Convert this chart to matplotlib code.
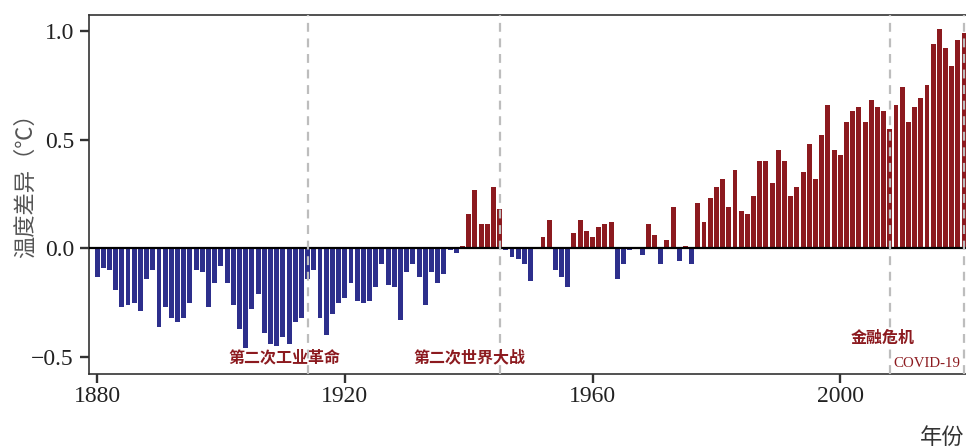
import numpy as np
import matplotlib
matplotlib.use("Agg")
import matplotlib.pyplot as plt

# temperature anomaly per year
years = np.arange(1880, 2021)
anomaly = [
    -0.13, -0.09, -0.10, -0.19, -0.27, -0.26, -0.25, -0.29, -0.14, -0.10,   # 1880s
    -0.36, -0.27, -0.32, -0.34, -0.32, -0.25, -0.10, -0.11, -0.27, -0.16,   # 1890s
    -0.08, -0.16, -0.26, -0.37, -0.46, -0.28, -0.21, -0.39, -0.44, -0.45,   # 1900s
    -0.41, -0.44, -0.34, -0.32, -0.14, -0.10, -0.32, -0.40, -0.30, -0.25,   # 1910s
    -0.23, -0.16, -0.24, -0.25, -0.24, -0.18, -0.07, -0.17, -0.18, -0.33,   # 1920s
    -0.11, -0.07, -0.13, -0.26, -0.11, -0.16, -0.12, -0.01, -0.02, 0.01,    # 1930s
    0.16, 0.27, 0.11, 0.11, 0.28, 0.18, -0.01, -0.04, -0.05, -0.07,         # 1940s
    -0.15, 0.00, 0.05, 0.13, -0.10, -0.13, -0.18, 0.07, 0.13, 0.08,         # 1950s
    0.05, 0.10, 0.11, 0.12, -0.14, -0.07, -0.01, 0.00, -0.03, 0.11,         # 1960s
    0.06, -0.07, 0.04, 0.19, -0.06, 0.01, -0.07, 0.21, 0.12, 0.23,          # 1970s
    0.28, 0.32, 0.19, 0.36, 0.17, 0.16, 0.24, 0.40, 0.40, 0.30,             # 1980s
    0.45, 0.40, 0.24, 0.28, 0.35, 0.48, 0.32, 0.52, 0.66, 0.45,             # 1990s
    0.43, 0.58, 0.63, 0.65, 0.58, 0.68, 0.65, 0.63, 0.55, 0.66,             # 2000s
    0.74, 0.58, 0.65, 0.69, 0.75, 0.94, 1.01, 0.92, 0.84, 0.96,             # 2010s
    0.99,                                                                   # 2020
]
anomaly = np.array(anomaly)

event_years = [1914, 1945, 2008, 2020]
event_labels = ["第二次工业革命", "第二次世界大战", "金融危机", "COVID-19"]
x_ticks = [1880, 1920, 1960, 2000]
y_ticks = [-0.5, 0.0, 0.5, 1.0]

blue = "#2d2f8c"
red = "#8c1a1f"
serif = "Liberation Serif"
cjk = ["Noto Sans CJK SC", "DejaVu Sans"]

fig = plt.figure(figsize=(9.66, 4.48), dpi=100)
# the reference is cropped at the right: axes ends at the figure edge,
# just past the 2020 bar, with no right spine
ax = fig.add_axes([89 / 966, 74 / 448, 877 / 966, 359 / 448])

colors = np.where(anomaly >= 0, red, blue)
ax.bar(years, anomaly, width=0.8, color=colors, linewidth=0, zorder=2)
ax.axhline(0, color="black", lw=1.6, zorder=3)

for yr in event_years:
    ax.axvline(yr, color="#bdbdbd", lw=1.6, linestyle=(0, (4, 3)), zorder=4)

ax.set_xlim(1878.7, 2020.3)
ax.set_ylim(-0.578, 1.073)
ax.set_xticks(x_ticks)
ax.set_yticks(y_ticks)
ax.set_xticklabels([str(t) for t in x_ticks], family=serif)
ax.set_yticklabels(["\u22120.5", "0.0", "0.5", "1.0"], family=serif)
ax.tick_params(direction="out", length=6.5, width=1.7, color="#333333",
               labelsize=17, labelcolor="#222222")
ax.tick_params(axis="y", pad=4.3)
ax.tick_params(axis="x", pad=2)
for s in ["top", "left", "bottom"]:
    ax.spines[s].set_color("#333333")
    ax.spines[s].set_linewidth(1.2)
ax.spines["right"].set_visible(False)

# event labels
ax.text(1910.3, -0.50, event_labels[0], ha="center", va="center",
        fontsize=11.5, fontweight="bold", color=red, family=cjk, zorder=5)
ax.text(1940.1, -0.50, event_labels[1], ha="center", va="center",
        fontsize=11.5, fontweight="bold", color=red, family=cjk, zorder=5)
ax.text(2006.9, -0.41, event_labels[2], ha="center", va="center",
        fontsize=11.5, fontweight="bold", color=red, family=cjk, zorder=5)
ax.text(2008.6, -0.53, event_labels[3], ha="left", va="center",
        fontsize=10.7, color=red, family=serif, zorder=5, clip_on=False)

fig.text(25 / 966, 0.597, "温度差异（℃）", rotation=90, ha="center", va="center",
         fontsize=16, color="#555555", family=cjk)
fig.text(920 / 966, 22 / 448, "年份", ha="left", va="top",
         fontsize=16, color="#333333", family=cjk)

fig.savefig("out.png", dpi=100)
